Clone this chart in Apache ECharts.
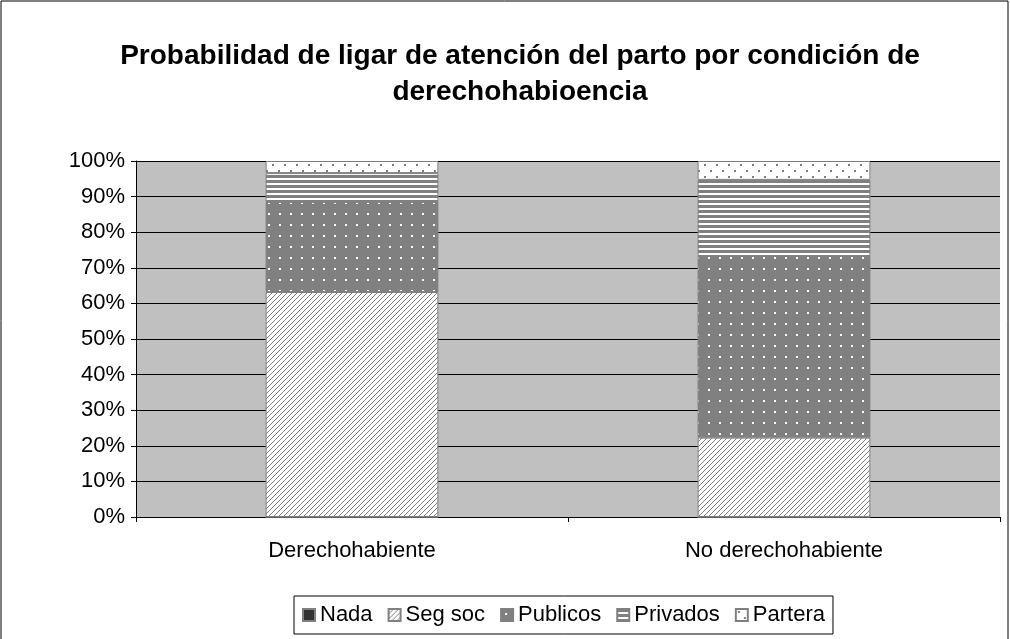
<!DOCTYPE html>
<html>
<head>
<meta charset="utf-8">
<script src="https://cdn.jsdelivr.net/npm/echarts@6/dist/echarts.min.js"></script>
<style>
  html, body { margin: 0; padding: 0; background: #fff; }
  #main { width: 1010px; height: 639px; }
</style>
</head>
<body>
<div id="main"></div>
<script>
var categories = ['Derechohabiente', 'No derechohabiente'];
var seriesNames = ['Nada', 'Seg soc', 'Publicos', 'Privados', 'Partera'];
var nada = [0, 0];
var segSoc = [63.2, 22.3];
var publicos = [25.3, 51.0];
var privados = [8.1, 21.4];
var partera = [3.4, 5.3];
var yTicks = [0, 10, 20, 30, 40, 50, 60, 70, 80, 90, 100];

// patrones de relleno (estilo Excel)
function makeTile(w, h, bg, draw) {
    var c = document.createElement('canvas');
    c.width = w; c.height = h;
    var ctx = c.getContext('2d');
    ctx.fillStyle = bg;
    ctx.fillRect(0, 0, w, h);
    ctx.fillStyle = '#808080';
    draw(ctx);
    return { image: c, repeat: 'repeat' };
}
var patSeg = makeTile(5, 5, '#ffffff', function(ctx) {
    for (var i = 0; i < 5; i++) {
        ctx.fillRect(i, 4 - i, 1, 1);
    }
});
var patPub = makeTile(11, 11, '#808080', function(ctx) {
    ctx.fillStyle = '#ffffff';
    ctx.fillRect(4, 4, 2, 2);
});
var patPriv = makeTile(5, 5, '#ffffff', function(ctx) {
    ctx.fillRect(0, 0, 5, 3);
});
var patPart = makeTile(12, 12, '#ffffff', function(ctx) {
    ctx.fillRect(2, 2, 2, 2);
    ctx.fillRect(8, 8, 2, 2);
});

var myChart = echarts.init(document.getElementById('main'));

function barSeries(name, data, color) {
    return {
        name: name,
        type: 'bar',
        stack: 'total',
        barWidth: '40%',
        data: data,
        itemStyle: { color: color, borderColor: '#808080', borderWidth: 1 }
    };
}

var font = 'Liberation Sans';

myChart.setOption({
    backgroundColor: '#ffffff',
    animation: false,
    title: {
        text: 'Probabilidad de ligar de atención del parto por condición de\nderechohabioencia',
        left: 515,
        top: 33,
        textAlign: 'center',
        textStyle: {
            fontFamily: font,
            fontSize: 28,
            fontWeight: 'bold',
            color: '#000',
            lineHeight: 36
        }
    },
    legend: {
        data: seriesNames,
        bottom: 5,
        left: 294,
        itemWidth: 12,
        itemHeight: 12,
        itemGap: 15,
        padding: [8, 8, 8, 8],
        borderColor: '#000',
        borderWidth: 1,
        icon: 'rect',
        textStyle: { fontFamily: font, fontSize: 22, color: '#000', padding: [0, 0, 0, 0] }
    },
    grid: {
        left: 136,
        right: 10,
        top: 161,
        bottom: 122,
        show: true,
        backgroundColor: '#c0c0c0',
        borderWidth: 0
    },
    xAxis: {
        type: 'category',
        data: categories,
        axisLine: { lineStyle: { color: '#000', width: 1 } },
        axisTick: { show: true, length: 5, lineStyle: { color: '#000' } },
        axisLabel: { fontFamily: font, fontSize: 22, color: '#000', margin: 23 }
    },
    yAxis: {
        type: 'value',
        min: yTicks[0],
        max: yTicks[yTicks.length - 1],
        interval: 10,
        axisLine: { show: true, lineStyle: { color: '#000', width: 1 } },
        axisTick: { show: true, length: 5, lineStyle: { color: '#000' } },
        splitLine: { show: true, lineStyle: { color: '#000', width: 1 } },
        axisLabel: { fontFamily: font, fontSize: 22, color: '#000', margin: 11, formatter: '{value}%' }
    },
    graphic: [{
        type: 'rect',
        shape: { x: 1, y: 1, width: 1007, height: 640 },
        style: { fill: 'none', stroke: '#000', lineWidth: 1 },
        silent: true
    }],
    series: [
        barSeries(seriesNames[0], nada, '#333333'),
        barSeries(seriesNames[1], segSoc, patSeg),
        barSeries(seriesNames[2], publicos, patPub),
        barSeries(seriesNames[3], privados, patPriv),
        barSeries(seriesNames[4], partera, patPart)
    ]
});
</script>
</body>
</html>
